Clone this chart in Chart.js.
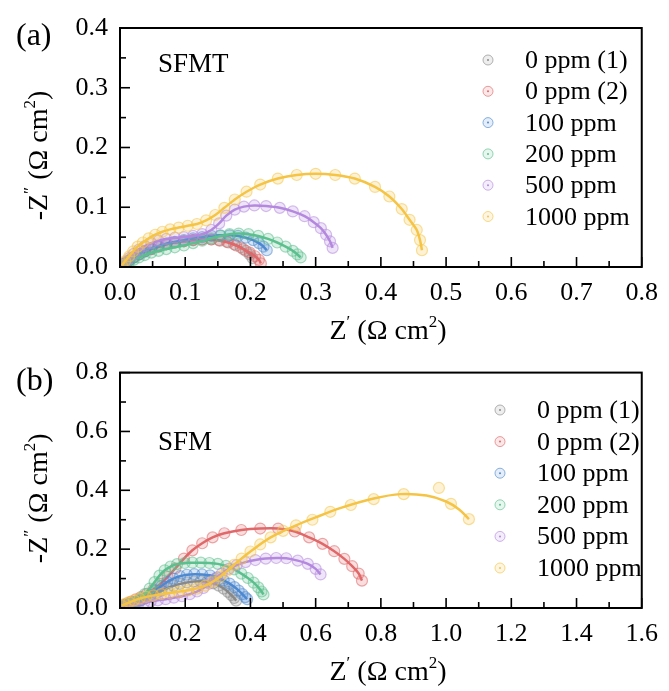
<!DOCTYPE html>
<html>
<head>
<meta charset="utf-8">
<script src="https://cdn.jsdelivr.net/npm/chart.js@4.4.0/dist/chart.umd.min.js"></script>
<style>
  body { margin: 0; background: #fff; }
  #wrap { width: 669px; height: 691px; }
  canvas { display: block; }
</style>
</head>
<body>
<div id="wrap">
  <canvas id="chartA" width="669" height="345"></canvas>
  <canvas id="chartB" width="669" height="346"></canvas>
</div>
<script>
const seriesNames = ["0 ppm (1)", "0 ppm (2)", "100 ppm", "200 ppm", "500 ppm", "1000 ppm"];
const seriesColors = ["#8a8a8a", "#e0686a", "#4f8ad0", "#5cc08e", "#b488de", "#f5c445"];

const xTicksA = ["0.0", "0.1", "0.2", "0.3", "0.4", "0.5", "0.6", "0.7", "0.8"];
const yTicksA = ["0.0", "0.1", "0.2", "0.3", "0.4"];
const xTicksB = ["0.0", "0.2", "0.4", "0.6", "0.8", "1.0", "1.2", "1.4", "1.6"];
const yTicksB = ["0.0", "0.2", "0.4", "0.6", "0.8"];

// SFMT: Z' , -Z'' in ohm cm2
const sfmt0ppm1 = [[0.003,0.002],[0.008,0.006],[0.014,0.011],[0.021,0.016],[0.029,0.021],[0.038,0.026],[0.048,0.030],[0.059,0.034],[0.071,0.038],[0.084,0.041],[0.098,0.043],[0.112,0.045],[0.126,0.046],[0.140,0.046],[0.152,0.045],[0.164,0.042],[0.175,0.038],[0.185,0.033],[0.193,0.027],[0.199,0.021],[0.203,0.015]];
const sfmt0ppm2 = [[0.003,0.002],[0.008,0.006],[0.014,0.011],[0.021,0.016],[0.029,0.021],[0.038,0.026],[0.048,0.030],[0.059,0.034],[0.071,0.038],[0.084,0.041],[0.098,0.043],[0.112,0.045],[0.126,0.046],[0.140,0.046],[0.153,0.044],[0.166,0.041],[0.178,0.036],[0.189,0.030],[0.199,0.024],[0.207,0.018],[0.213,0.012],[0.216,0.006]];
const sfmt100 = [[0.003,0.002],[0.008,0.006],[0.014,0.011],[0.021,0.016],[0.029,0.021],[0.038,0.026],[0.048,0.031],[0.059,0.035],[0.071,0.039],[0.084,0.042],[0.098,0.045],[0.112,0.048],[0.126,0.050],[0.140,0.052],[0.154,0.053],[0.168,0.053],[0.181,0.052],[0.193,0.049],[0.204,0.045],[0.213,0.040],[0.220,0.034],[0.225,0.028]];
const sfmt200 = [[0.003,0.001],[0.008,0.004],[0.014,0.008],[0.021,0.012],[0.029,0.016],[0.038,0.020],[0.048,0.024],[0.059,0.027],[0.071,0.030],[0.084,0.033],[0.098,0.036],[0.112,0.040],[0.126,0.044],[0.140,0.048],[0.154,0.052],[0.168,0.055],[0.182,0.056],[0.197,0.055],[0.212,0.052],[0.227,0.047],[0.241,0.041],[0.254,0.034],[0.265,0.027],[0.272,0.021],[0.277,0.016]];
const sfmt500 = [[0.003,0.002],[0.008,0.008],[0.014,0.015],[0.021,0.022],[0.029,0.029],[0.038,0.035],[0.048,0.040],[0.059,0.044],[0.071,0.047],[0.084,0.049],[0.098,0.050],[0.112,0.052],[0.126,0.055],[0.140,0.062],[0.152,0.073],[0.163,0.086],[0.176,0.096],[0.190,0.101],[0.206,0.103],[0.224,0.102],[0.245,0.099],[0.265,0.093],[0.283,0.085],[0.297,0.075],[0.308,0.065],[0.316,0.054],[0.322,0.043],[0.326,0.032]];
const sfmt1000 = [[0.003,0.003],[0.008,0.010],[0.014,0.018],[0.020,0.026],[0.027,0.034],[0.035,0.041],[0.044,0.048],[0.054,0.054],[0.065,0.059],[0.077,0.063],[0.090,0.066],[0.104,0.069],[0.118,0.072],[0.132,0.078],[0.146,0.087],[0.160,0.099],[0.176,0.113],[0.194,0.126],[0.215,0.138],[0.242,0.148],[0.271,0.154],[0.300,0.156],[0.330,0.154],[0.360,0.148],[0.391,0.134],[0.413,0.118],[0.432,0.097],[0.444,0.079],[0.455,0.062],[0.460,0.045],[0.463,0.028]];

// SFM
const sfm0ppm1 = [[0.004,0.003],[0.012,0.007],[0.022,0.011],[0.034,0.015],[0.048,0.020],[0.063,0.026],[0.078,0.033],[0.094,0.041],[0.110,0.050],[0.127,0.059],[0.145,0.067],[0.164,0.075],[0.184,0.082],[0.205,0.087],[0.226,0.090],[0.247,0.091],[0.267,0.089],[0.286,0.084],[0.303,0.076],[0.318,0.066],[0.331,0.055],[0.341,0.044],[0.350,0.034],[0.356,0.025]];
const sfm0ppm2 = [[0.004,0.004],[0.012,0.010],[0.022,0.016],[0.034,0.022],[0.048,0.029],[0.064,0.037],[0.082,0.048],[0.102,0.062],[0.124,0.082],[0.146,0.106],[0.170,0.135],[0.196,0.168],[0.222,0.196],[0.252,0.220],[0.284,0.240],[0.320,0.254],[0.372,0.265],[0.430,0.270],[0.485,0.270],[0.536,0.260],[0.580,0.240],[0.621,0.218],[0.657,0.193],[0.688,0.167],[0.712,0.142],[0.732,0.117],[0.742,0.093]];
const sfm100 = [[0.004,0.003],[0.012,0.007],[0.022,0.011],[0.034,0.015],[0.048,0.020],[0.063,0.026],[0.078,0.034],[0.094,0.045],[0.110,0.060],[0.127,0.075],[0.145,0.089],[0.164,0.100],[0.184,0.108],[0.205,0.113],[0.228,0.115],[0.252,0.114],[0.276,0.111],[0.298,0.104],[0.318,0.094],[0.336,0.083],[0.351,0.071],[0.364,0.059],[0.375,0.047],[0.384,0.037],[0.390,0.030]];
const sfm200 = [[0.004,0.003],[0.012,0.007],[0.022,0.011],[0.034,0.016],[0.048,0.022],[0.062,0.032],[0.076,0.047],[0.091,0.066],[0.106,0.088],[0.121,0.110],[0.137,0.128],[0.155,0.141],[0.175,0.149],[0.198,0.153],[0.222,0.154],[0.248,0.154],[0.274,0.153],[0.300,0.150],[0.325,0.143],[0.350,0.131],[0.372,0.117],[0.392,0.102],[0.410,0.086],[0.424,0.070],[0.434,0.056],[0.440,0.046]];
const sfm500 = [[0.004,0.002],[0.014,0.005],[0.026,0.008],[0.040,0.011],[0.056,0.014],[0.074,0.018],[0.094,0.022],[0.116,0.026],[0.140,0.030],[0.165,0.035],[0.190,0.040],[0.214,0.047],[0.236,0.056],[0.256,0.068],[0.274,0.083],[0.292,0.100],[0.312,0.117],[0.334,0.133],[0.358,0.146],[0.385,0.156],[0.415,0.163],[0.447,0.168],[0.479,0.170],[0.510,0.169],[0.545,0.161],[0.576,0.150],[0.600,0.133],[0.615,0.114]];
const sfm1000 = [[0.005,0.008],[0.015,0.014],[0.028,0.020],[0.043,0.026],[0.060,0.032],[0.080,0.038],[0.102,0.043],[0.126,0.047],[0.152,0.051],[0.180,0.055],[0.208,0.060],[0.236,0.066],[0.262,0.076],[0.286,0.090],[0.308,0.107],[0.328,0.126],[0.350,0.147],[0.373,0.168],[0.400,0.192],[0.430,0.216],[0.462,0.240],[0.500,0.262],[0.540,0.281],[0.590,0.300],[0.645,0.327],[0.708,0.350],[0.778,0.370],[0.870,0.387],[0.978,0.408],[1.015,0.354],[1.070,0.302]];
// fitted curve for 1000 ppm does not pass through the scattered point near 0.98
const sfm1000Fit = [[0.005,0.008],[0.060,0.032],[0.126,0.047],[0.208,0.060],[0.262,0.076],[0.308,0.107],[0.350,0.147],[0.400,0.192],[0.462,0.240],[0.540,0.281],[0.600,0.308],[0.680,0.341],[0.778,0.372],[0.860,0.387],[0.940,0.382],[1.000,0.362],[1.040,0.335],[1.070,0.302]];

const SERIF = "'Liberation Serif', 'DejaVu Serif', serif";

function rgba(hex, a) {
  const n = parseInt(hex.slice(1), 16);
  return `rgba(${n >> 16},${(n >> 8) & 255},${n & 255},${a})`;
}

function toXY(arr) {
  return arr.map(p => ({ x: p[0], y: p[1] }));
}

function buildDatasets(seriesData, fits) {
  const sets = [];
  seriesData.forEach((arr, i) => {
    const c = seriesColors[i];
    const fit = fits[i];
    sets.push({
      label: seriesNames[i],
      data: toXY(arr),
      showLine: !fit,
      borderColor: c,
      borderWidth: 2.5,
      tension: 0.3,
      pointRadius: 5.5,
      pointBorderWidth: 1.2,
      pointBorderColor: rgba(c, 0.55),
      pointBackgroundColor: rgba(c, 0.22),
      order: -i
    });
    if (fit) {
      sets.push({
        label: seriesNames[i] + " fit",
        data: toXY(fit),
        showLine: true,
        borderColor: c,
        borderWidth: 2.5,
        tension: 0.35,
        pointRadius: 0,
        order: -i
      });
    }
  });
  return sets;
}

// draws a string made of normal and superscript pieces, centred on (cx, cy)
function drawRich(ctx, parts, cx, cy, size) {
  const supSize = Math.round(size * 0.62);
  let total = 0;
  parts.forEach(p => {
    ctx.font = `${p.sup ? supSize : size}px ${SERIF}`;
    p.w = ctx.measureText(p.t).width;
    total += p.w;
  });
  let x = cx - total / 2;
  ctx.textAlign = "left";
  ctx.textBaseline = "alphabetic";
  const base = cy + size * 0.33;
  parts.forEach(p => {
    ctx.font = `${p.sup ? supSize : size}px ${SERIF}`;
    ctx.fillText(p.t, x, p.sup ? base - size * 0.42 : base);
    x += p.w;
  });
}

const xTitleParts = [{ t: "Z" }, { t: "′", sup: true }, { t: " (Ω cm" }, { t: "2", sup: true }, { t: ")" }];
const yTitleParts = [{ t: "-Z" }, { t: "″", sup: true }, { t: " (Ω cm" }, { t: "2", sup: true }, { t: ")" }];

function panelDecor(cfg) {
  return {
    id: "panelDecor",
    afterDraw(chart) {
      const { ctx, chartArea: a, scales } = chart;
      const sx = scales.x, sy = scales.y;
      ctx.save();
      ctx.fillStyle = "#000";
      ctx.strokeStyle = "#000";

      // inward ticks, major and minor
      ctx.lineWidth = 1.6;
      const tickSet = (scale, vertical) => {
        const vals = scale.ticks.map(t => t.value);
        const minors = [];
        for (let i = 0; i < vals.length - 1; i++) minors.push((vals[i] + vals[i + 1]) / 2);
        const mark = (v, len) => {
          const p = scale.getPixelForValue(v);
          ctx.beginPath();
          if (vertical) { ctx.moveTo(a.left, p); ctx.lineTo(a.left + len, p); }
          else { ctx.moveTo(p, a.bottom); ctx.lineTo(p, a.bottom - len); }
          ctx.stroke();
        };
        vals.forEach(v => mark(v, 10));
        minors.forEach(v => mark(v, 6));
      };
      tickSet(sx, false);
      tickSet(sy, true);

      ctx.lineWidth = 2;
      ctx.strokeRect(a.left, a.top, a.right - a.left, a.bottom - a.top);

      // axis titles
      drawRich(ctx, xTitleParts, 388, a.bottom + 63, 28);
      ctx.save();
      ctx.translate(38, (a.top + a.bottom) / 2 + 8);
      ctx.rotate(-Math.PI / 2);
      drawRich(ctx, yTitleParts, 0, 0, 28);
      ctx.restore();

      // panel letter and sample name
      ctx.textAlign = "left";
      ctx.textBaseline = "alphabetic";
      ctx.font = `32px ${SERIF}`;
      ctx.fillText(cfg.letter, 16, a.top + 17);
      ctx.font = `27px ${SERIF}`;
      ctx.fillText(cfg.sample, 158, cfg.sampleY);

      // legend
      ctx.font = `26px ${SERIF}`;
      seriesNames.forEach((name, i) => {
        const y = cfg.legendY + i * cfg.legendGap;
        const c = seriesColors[i];
        ctx.beginPath();
        ctx.arc(cfg.legendX, y, 5, 0, Math.PI * 2);
        ctx.fillStyle = rgba(c, 0.15);
        ctx.fill();
        ctx.lineWidth = 1;
        ctx.strokeStyle = rgba(c, 0.65);
        ctx.stroke();
        ctx.beginPath();
        ctx.arc(cfg.legendX, y, 1, 0, Math.PI * 2);
        ctx.fillStyle = c;
        ctx.fill();
        ctx.fillStyle = "#000";
        ctx.fillText(name, cfg.legendTextX, y + 8);
      });
      ctx.restore();
    }
  };
}

function axisOptions(max, step, labels, fitFn, pad) {
  return {
    type: "linear",
    min: 0,
    max: max,
    ticks: {
      stepSize: step,
      autoSkip: false,
      maxRotation: 0,
      padding: pad,
      color: "#000",
      font: { family: SERIF, size: 26 },
      callback: v => labels[Math.round(v / step)]
    },
    grid: { display: false, drawTicks: false },
    border: { display: false },
    afterFit: fitFn
  };
}

function makeChart(id, datasets, xMax, xStep, xLabels, yMax, yStep, yLabels, top, xHeight, decor) {
  return new Chart(document.getElementById(id), {
    type: "scatter",
    data: { datasets },
    options: {
      responsive: false,
      animation: false,
      devicePixelRatio: 1,
      layout: { padding: { top: top, right: 21, left: 0, bottom: 0 } },
      plugins: { legend: { display: false }, tooltip: { enabled: false } },
      scales: {
        x: axisOptions(xMax, xStep, xLabels, s => { s.height = xHeight; }, 11),
        y: axisOptions(yMax, yStep, yLabels, s => { s.width = 120; }, 12)
      }
    },
    plugins: [panelDecor(decor)]
  });
}

makeChart("chartA",
  buildDatasets([sfmt0ppm1, sfmt0ppm2, sfmt100, sfmt200, sfmt500, sfmt1000], []),
  0.8, 0.1, xTicksA, 0.4, 0.1, yTicksA, 28, 78,
  { letter: "(a)", sample: "SFMT", sampleY: 72, legendX: 488, legendTextX: 525, legendY: 60, legendGap: 31.3 });

makeChart("chartB",
  buildDatasets([sfm0ppm1, sfm0ppm2, sfm100, sfm200, sfm500, sfm1000], [null, null, null, null, null, sfm1000Fit]),
  1.6, 0.2, xTicksB, 0.8, 0.2, yTicksB, 24, 83,
  { letter: "(b)", sample: "SFM", sampleY: 105, legendX: 500, legendTextX: 537, legendY: 65, legendGap: 31.6 });
</script>
</body>
</html>
